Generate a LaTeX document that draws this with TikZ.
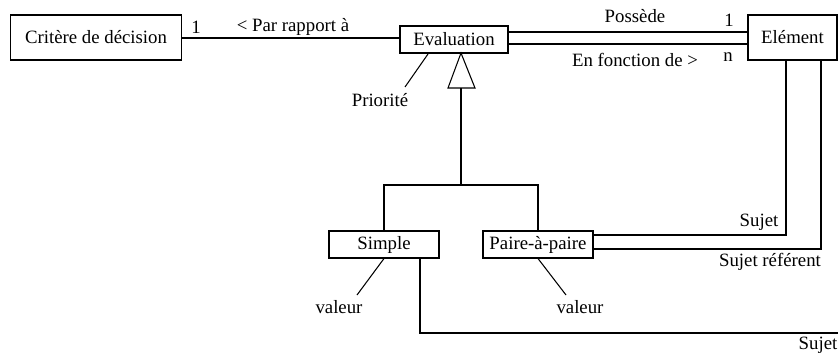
\documentclass[tikz,border=0pt]{standalone}
\usepackage{fontspec}
\setmainfont{Liberation Serif}
\usepackage{tikz}
\usetikzlibrary{calc}

\begin{document}
\begin{tikzpicture}[x=0.02cm, y=-0.02cm, line width=0.6pt,
    every node/.style={font=\rmfamily\fontsize{10.7}{12}\selectfont, inner sep=0pt},
    classbox/.style={draw, line width=0.6pt, minimum height=0.54cm},
    roletxt/.style={anchor=center}]
   \useasboundingbox (0,0) rectangle (838,355);
   % classes
   \node[classbox, minimum width=3.42cm, minimum height=0.9cm] (crit) at (96,37.5) {Critère de décision};
   \node[classbox, minimum width=2.16cm] (eval) at (454,39.5) {Evaluation};
   \node[classbox, minimum width=1.78cm, minimum height=0.9cm] (elem) at (792.5,37.5) {Elément};
   \node[classbox, minimum width=2.2cm] (simple) at (384,244.5) {Simple};
   \node[classbox, minimum width=2.2cm] (paire) at (538,244.5) {Paire-à-paire};
   % associations
   \draw (crit.east |- 0,38) -- (eval.west |- 0,38);
   \node[roletxt] (un1) at (196,27) {1};
   \node[roletxt] (rapp) at (293,27) {< Par rapport à};
   \draw ([yshift=0.15cm]eval.east) -- ([yshift=0.15cm]eval.east -| elem.west);
   \draw ([yshift=-0.09cm]eval.east) -- ([yshift=-0.09cm]eval.east -| elem.west);
   \node[roletxt] (poss) at (635,16) {Possède};
   \node[roletxt] (un2) at (729,20) {1};
   \node[roletxt] (fonc) at (635,60) {En fonction de >};
   \node[roletxt] (nn) at (728,57) {n};
   % generalisation
   \coordinate (apex) at (461,53);
   \coordinate (tbase) at (461,88);
   \coordinate (fork) at (461,185);
   \draw (apex) -- (448,88) -- (475,88) -- cycle;
   \draw[line width=0.75pt] (tbase) -- (fork) -| (simple.north);
   \draw[line width=0.75pt] (fork) -| (paire.north);
   % attributes
   \node[roletxt] (prio) at (380,100) {Priorité};
   \draw (428,54) -- (405,87);
   \node[roletxt] (val1) at (339,307) {valeur};
   \draw (simple.south) -- (357,295);
   \node[roletxt] (val2) at (580,307) {valeur};
   \draw (paire.south) -- (566,295);
   % sujets
   \draw (786,60) -- (786,235) -- (paire.east |- 0,235);
   \draw (821,60) -- (821,249) -- (paire.east |- 0,249);
   \node[roletxt] (suj1) at (759,222) {Sujet};
   \node[roletxt] (suj2) at (770,262) {Sujet référent};
   \coordinate (farend) at (840,333);
   \draw (simple.south -| 420,0) -- (420,333) -- (farend);
   \node[roletxt] (suj3) at (818,345) {Sujet};
\end{tikzpicture}
\end{document}
